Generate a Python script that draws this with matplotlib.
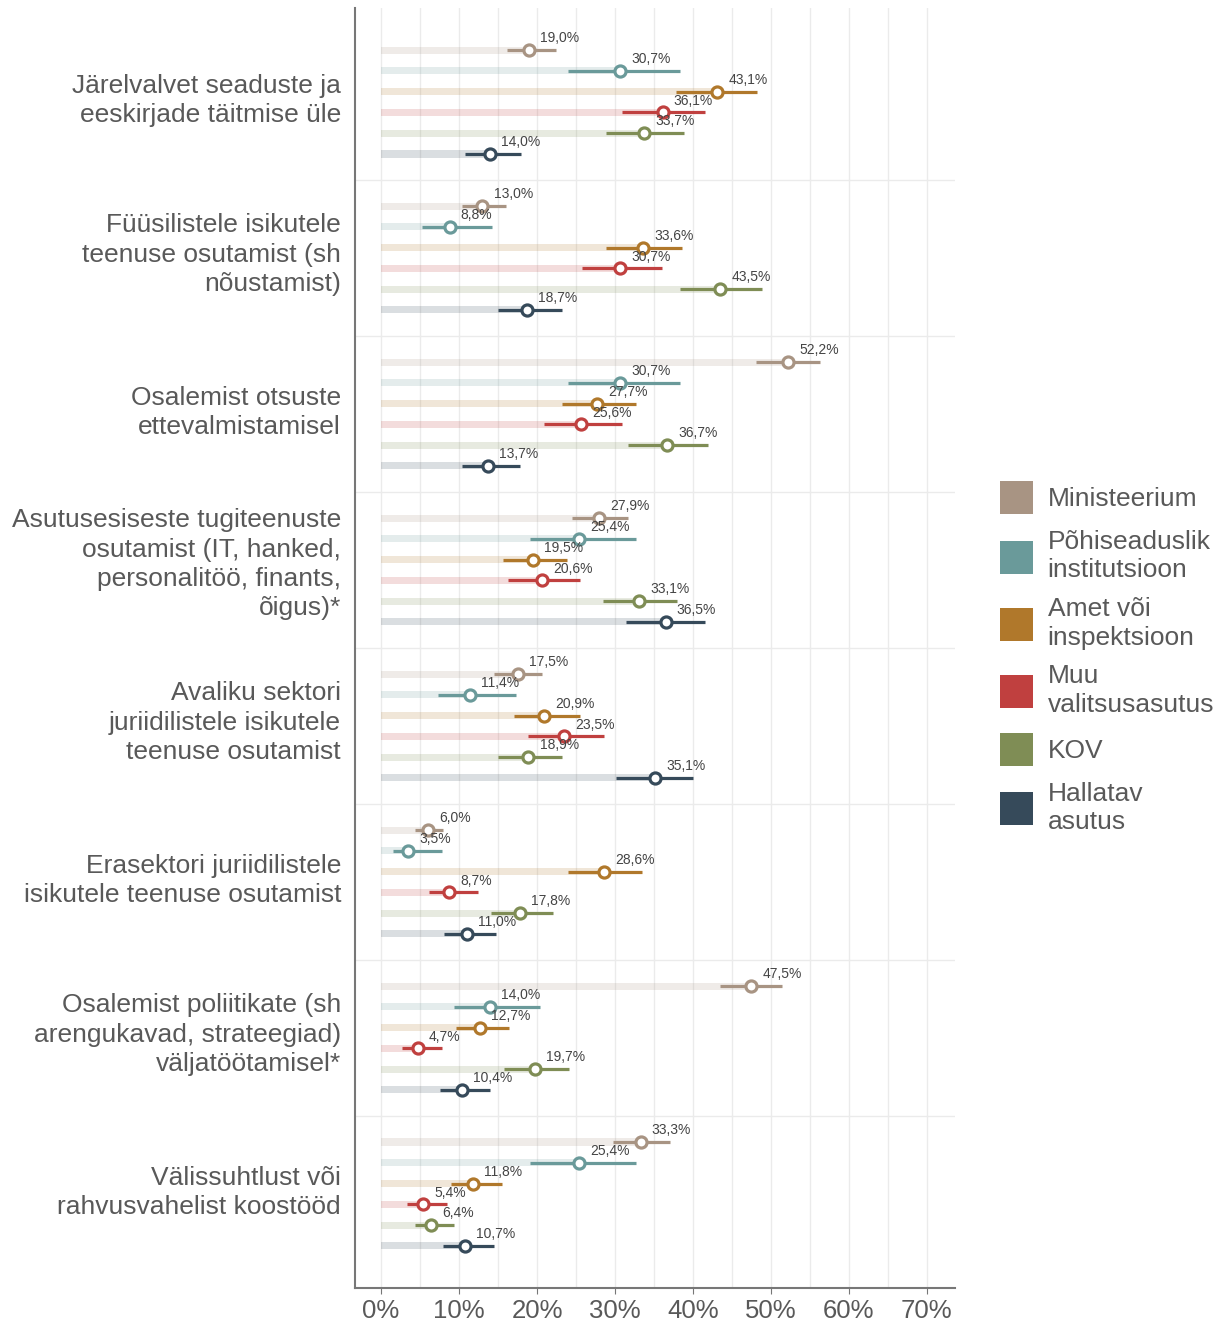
import numpy as np
import matplotlib
matplotlib.use("Agg")
import matplotlib.pyplot as plt
import matplotlib.transforms as mtransforms
from matplotlib.patches import Patch, Rectangle
from matplotlib.legend_handler import HandlerPatch

plt.rcParams['font.family'] = ['Liberation Sans', 'DejaVu Sans']

# Kategooriad (ülevalt alla)
tegevused = [
    "Järelvalvet seaduste ja\neeskirjade täitmise üle",
    "Füüsilistele isikutele\nteenuse osutamist (sh\nnõustamist)",
    "Osalemist otsuste\nettevalmistamisel",
    "Asutusesiseste tugiteenuste\nosutamist (IT, hanked,\npersonalitöö, finants,\nõigus)*",
    "Avaliku sektori\njuriidilistele isikutele\nteenuse osutamist",
    "Erasektori juriidilistele\nisikutele teenuse osutamist",
    "Osalemist poliitikate (sh\narengukavad, strateegiad)\nväljatöötamisel*",
    "Välissuhtlust või\nrahvusvahelist koostööd",
]

asutused = ["Ministeerium", "Põhiseaduslik\ninstitutsioon", "Amet või\ninspektsioon",
            "Muu\nvalitsusasutus", "KOV", "Hallatav\nasutus"]
varvid = ["#a89483", "#6a9a9a", "#b0782b", "#c0403f", "#7f8d55", "#364a5a"]

# osakaalud (%) ja usaldusvahemikud
ministeerium = [19.0, 13.0, 52.2, 27.9, 17.5, 6.0, 47.5, 33.3]
ministeerium_lo = [16.1, 10.4, 48.1, 24.5, 14.5, 4.3, 43.5, 29.7]
ministeerium_hi = [22.4, 16.0, 56.3, 31.6, 20.6, 8.0, 51.4, 37.1]

pohiseaduslik = [30.7, 8.8, 30.7, 25.4, 11.4, 3.5, 14.0, 25.4]
pohiseaduslik_lo = [24.0, 5.2, 24.0, 19.1, 7.3, 1.5, 9.4, 19.1]
pohiseaduslik_hi = [38.3, 14.2, 38.3, 32.7, 17.3, 7.8, 20.4, 32.7]

amet = [43.1, 33.6, 27.7, 19.5, 20.9, 28.6, 12.7, 11.8]
amet_lo = [37.8, 28.8, 23.2, 15.6, 17.1, 24.0, 9.6, 9.0]
amet_hi = [48.2, 38.6, 32.7, 23.9, 25.5, 33.4, 16.4, 15.5]

muu = [36.1, 30.7, 25.6, 20.6, 23.5, 8.7, 4.7, 5.4]
muu_lo = [30.9, 25.8, 20.9, 16.3, 18.9, 6.1, 2.7, 3.3]
muu_hi = [41.6, 36.0, 30.9, 25.5, 28.6, 12.4, 7.8, 8.5]

kov = [33.7, 43.5, 36.7, 33.1, 18.9, 17.8, 19.7, 6.4]
kov_lo = [28.8, 38.3, 31.7, 28.4, 15.0, 14.1, 15.8, 4.3]
kov_hi = [38.8, 48.8, 41.9, 38.0, 23.2, 22.1, 24.1, 9.4]

hallatav = [14.0, 18.7, 13.7, 36.5, 35.1, 11.0, 10.4, 10.7]
hallatav_lo = [10.7, 15.0, 10.4, 31.4, 30.1, 8.1, 7.6, 7.9]
hallatav_hi = [18.0, 23.2, 17.8, 41.6, 40.0, 14.7, 13.9, 14.5]

seeriad = [
    (ministeerium, ministeerium_lo, ministeerium_hi),
    (pohiseaduslik, pohiseaduslik_lo, pohiseaduslik_hi),
    (amet, amet_lo, amet_hi),
    (muu, muu_lo, muu_hi),
    (kov, kov_lo, kov_hi),
    (hallatav, hallatav_lo, hallatav_hi),
]

fig = plt.figure(figsize=(12.25, 13.23), dpi=100)
ax = fig.add_axes([355 / 1225, 1 - 1288 / 1323, 600 / 1225, 1280 / 1323])

grupid = np.arange(len(tegevused))
samm = 0.1333

for k, ((vals, lo, hi), c) in enumerate(zip(seeriad, varvid)):
    y = grupid + (k - 2.5) * samm
    vals = np.array(vals)
    ax.barh(y, vals, height=0.045, color=c, alpha=0.18, lw=0, zorder=2)
    ax.hlines(y, lo, hi, color=c, lw=2.3, zorder=3)
    ax.plot(vals, y, 'o', ms=8, mfc='white', mec=c, mew=2.3, zorder=4)
    for v, yy in zip(vals, y):
        ax.annotate(f"{v:.1f}%".replace('.', ','), (v, yy), xytext=(8, 8.5),
                    textcoords='offset points', ha='left', va='center',
                    fontsize=10, color='#444444', zorder=5)

ax.set_xlim(-3.35, 73.6)
ax.set_ylim(len(tegevused) - 0.5 + 0.1026, -0.5 - 0.1026)

ax.set_xticks(np.arange(0, 71, 10))
ax.set_xticks(np.arange(5, 71, 10), minor=True)
ax.set_xticklabels([f"{t}%" for t in range(0, 71, 10)])
ax.set_yticks(grupid)
ax.set_yticklabels(tegevused, multialignment='right', linespacing=1.28)
ax.set_yticks(grupid[:-1] + 0.5, minor=True)

ax.grid(axis='x', which='both', color='#ebebeb', lw=1, zorder=0)
ax.grid(axis='y', which='minor', color='#ebebeb', lw=1, zorder=0)
ax.set_axisbelow(True)

ax.tick_params(axis='x', which='major', length=4, color='#777777', labelsize=18.5,
               labelcolor='#595959', pad=4)
ax.tick_params(axis='x', which='minor', length=0)
ax.tick_params(axis='y', which='both', length=0, labelsize=19, labelcolor='#595959', pad=10)

# sildid veidi ülespoole nagu originaalis (pärast tick_params, muidu kaob)
for lbl in ax.get_yticklabels():
    n = lbl.get_text().count("\n") + 1
    nihe = mtransforms.ScaledTranslation(0, (2.3 * n + 1.75) / 100, fig.dpi_scale_trans)
    lbl.set_transform(lbl.get_transform() + nihe)

for s in ['top', 'right']:
    ax.spines[s].set_visible(False)
for s in ['left', 'bottom']:
    ax.spines[s].set_color('#777777')
    ax.spines[s].set_linewidth(1.5)


def ruut(legend, orig_handle, xdescent, ydescent, width, height, fontsize):
    return Rectangle((-xdescent, -ydescent + (height - width) / 2), width, width)


handles = [Patch(facecolor=c, edgecolor='none') for c in varvid]
leg = fig.legend(handles, asutused, loc='center left', bbox_to_anchor=(989 / 1225, 1 - 657 / 1323),
                 frameon=False, fontsize=19, handlelength=1.25, handleheight=1.7,
                 handletextpad=0.57, labelspacing=0.55, borderaxespad=0,
                 handler_map={Patch: HandlerPatch(patch_func=ruut)})
for t in leg.get_texts():
    t.set_color('#595959')
    t.set_linespacing(1.25)

fig.savefig("out.png", dpi=100)
